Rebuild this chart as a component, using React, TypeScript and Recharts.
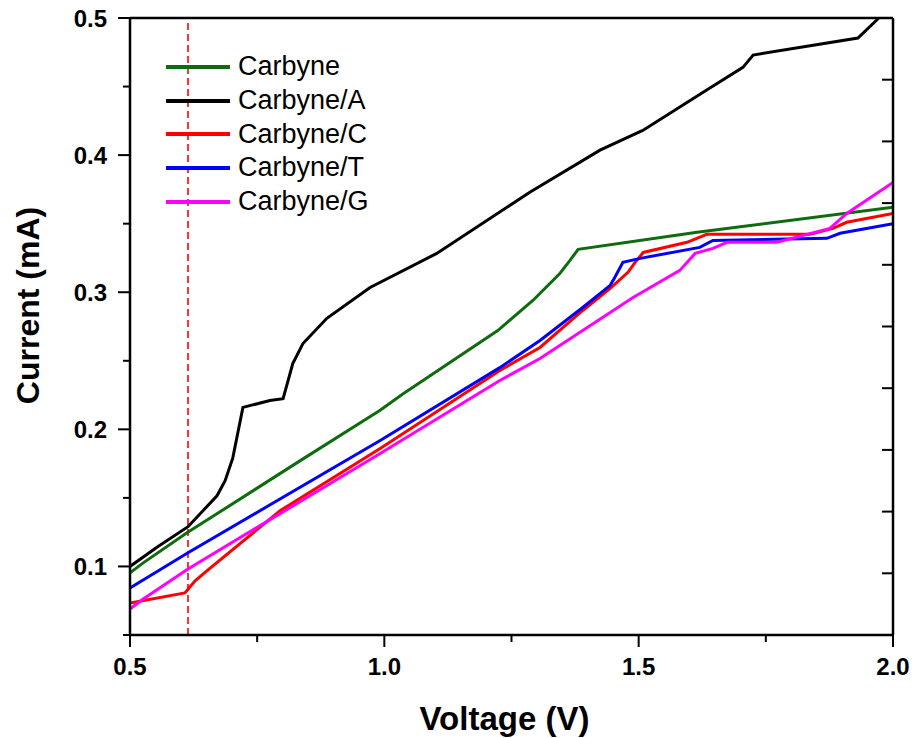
import { LineChart, Line, XAxis, YAxis, ReferenceLine } from 'recharts';

// Voltage (V) / current (mA), one pair of arrays per sample
const carbyneV = [0.5, 0.526, 0.612, 0.834, 0.991, 1.037, 1.223, 1.292, 1.345, 1.365, 1.381, 1.615, 2.0];
const carbyneI = [0.0953, 0.1026, 0.1245, 0.177, 0.2137, 0.226, 0.272, 0.294, 0.3137, 0.3232, 0.3313, 0.3437, 0.362];

const carbyneAV = [0.5, 0.553, 0.614, 0.671, 0.687, 0.702, 0.722, 0.775, 0.801, 0.82, 0.84, 0.887, 0.972, 1.103, 1.286, 1.424, 1.508, 1.64, 1.705, 1.725, 1.931, 1.968, 2.0];
const carbyneAI = [0.1, 0.114, 0.129, 0.1515, 0.1625, 0.179, 0.216, 0.221, 0.2224, 0.248, 0.2626, 0.281, 0.3035, 0.3283, 0.3729, 0.4036, 0.418, 0.449, 0.464, 0.473, 0.4854, 0.4985, 0.512];

const carbyneCV = [0.5, 0.608, 0.628, 0.651, 0.795, 0.991, 1.227, 1.306, 1.39, 1.444, 1.479, 1.493, 1.509, 1.595, 1.634, 1.837, 1.882, 1.909, 2.0];
const carbyneCI = [0.0734, 0.0807, 0.0895, 0.0968, 0.1406, 0.1859, 0.2429, 0.2597, 0.2867, 0.3028, 0.3145, 0.3218, 0.329, 0.3364, 0.3422, 0.3422, 0.3466, 0.351, 0.3575];

const carbyneTV = [0.5, 0.614, 0.991, 1.227, 1.306, 1.39, 1.444, 1.453, 1.469, 1.503, 1.62, 1.646, 1.87, 1.896, 2.0];
const carbyneTI = [0.0843, 0.11, 0.1917, 0.245, 0.2648, 0.2889, 0.305, 0.3108, 0.3218, 0.3247, 0.3327, 0.3378, 0.3393, 0.343, 0.35];

const carbyneGV = [0.5, 0.526, 0.614, 0.795, 0.991, 1.227, 1.306, 1.489, 1.581, 1.611, 1.646, 1.674, 1.772, 1.876, 1.909, 2.0];
const carbyneGI = [0.069, 0.0763, 0.0982, 0.1385, 0.1822, 0.2356, 0.2516, 0.2962, 0.3159, 0.3283, 0.332, 0.3364, 0.3364, 0.3466, 0.3575, 0.38];

const markerV = 0.614;

// ticks
const xTicks = [0.5, 0.75, 1.0, 1.25, 1.5, 1.75, 2.0];
const xMajor = [0.5, 1.0, 1.5, 2.0];
const yTicks = [0.05, 0.1, 0.15, 0.2, 0.25, 0.3, 0.35, 0.4, 0.45, 0.5];
const yMajor = [0.1, 0.2, 0.3, 0.4, 0.5];
const topTicks = [0.5, 0.65, 0.8, 0.95, 1.1, 1.25, 1.4, 1.55, 1.7, 1.85, 2.0];
const rightTicks = [0.05, 0.095, 0.14, 0.185, 0.23, 0.275, 0.32, 0.365, 0.41, 0.455, 0.5];

const FONT = 'Arial, "Liberation Sans", Helvetica, sans-serif';

const toPoints = (v: number[], i: number[]) => v.map((x, k) => ({ v: x, i: i[k] }));

const series = [
    { name: 'Carbyne', color: '#0e6b0e', data: toPoints(carbyneV, carbyneI) },
    { name: 'Carbyne/A', color: '#000000', data: toPoints(carbyneAV, carbyneAI) },
    { name: 'Carbyne/C', color: '#ff0000', data: toPoints(carbyneCV, carbyneCI) },
    { name: 'Carbyne/T', color: '#0000ff', data: toPoints(carbyneTV, carbyneTI) },
    { name: 'Carbyne/G', color: '#ff00ff', data: toPoints(carbyneGV, carbyneGI) },
];

const isMajor = (val: number, majors: number[]) => majors.some(m => Math.abs(m - val) < 1e-6);

const BottomTick = ({ x, y, payload }: any) => {
    const major = isMajor(payload.value, xMajor);
    return (
        <g>
            <line x1={x} x2={x} y1={y} y2={y + (major ? 12 : 7)} stroke="#000" strokeWidth={2} />
            {major && (
                <text x={x} y={y + 40} textAnchor="middle" fontSize={24} fontWeight="bold" fontFamily={FONT} fill="#000">
                    {payload.value.toFixed(1)}
                </text>
            )}
        </g>
    );
};

const LeftTick = ({ x, y, payload }: any) => {
    const major = isMajor(payload.value, yMajor);
    return (
        <g>
            <line x1={x - (major ? 12 : 7)} x2={x} y1={y} y2={y} stroke="#000" strokeWidth={2} />
            {major && (
                <text x={x - 23} y={y + 8.6} textAnchor="end" fontSize={24} fontWeight="bold" fontFamily={FONT} fill="#000">
                    {payload.value.toFixed(1)}
                </text>
            )}
        </g>
    );
};

// mirrored frame ticks point inward
const TopTick = ({ x, y }: any) => (
    <line x1={x} x2={x} y1={y} y2={y + 11} stroke="#000" strokeWidth={2} />
);

const RightTick = ({ x, y }: any) => (
    <line x1={x - 11} x2={x} y1={y} y2={y} stroke="#000" strokeWidth={2} />
);

const XTitle = ({ viewBox }: any) => (
    <text
        x={viewBox.x + viewBox.width / 2 - 7}
        y={viewBox.y + 95}
        textAnchor="middle"
        fontSize={33}
        fontWeight="bold"
        fontFamily={FONT}
        fill="#000"
    >
        Voltage (V)
    </text>
);

const YTitle = ({ viewBox }: any) => {
    const cx = viewBox.x + 28;
    const cy = viewBox.y + viewBox.height / 2 - 21;
    return (
        <text
            x={cx}
            y={cy}
            dy="0.35em"
            transform={`rotate(-90, ${cx}, ${cy})`}
            textAnchor="middle"
            fontSize={32}
            fontWeight="bold"
            fontFamily={FONT}
            fill="#000"
        >
            Current (mA)
        </text>
    );
};

// legend sits inside the frame, top-left; kept out of recharts so it doesn't shift the plot
const LegendBox = () => (
    <div style={{ position: 'absolute', left: 166, top: 50, fontFamily: FONT, fontSize: 27, color: '#000' }}>
        {series.map(s => (
            <div key={s.name} style={{ display: 'flex', alignItems: 'center', height: 33.7 }}>
                <span style={{ display: 'inline-block', width: 64, height: 4, background: s.color, marginRight: 8 }}></span>
                <span>{s.name}</span>
            </div>
        ))}
    </div>
);

const axisLine = { stroke: '#000', strokeWidth: 2.5 };

export default function App() {
    return (
        <div style={{ position: 'absolute', left: 0, top: 0, width: 912, height: 738, background: '#fff' }}>
            <LineChart width={912} height={738} margin={{ top: 17, right: 18, left: 0, bottom: 0 }}>
                <XAxis
                    xAxisId="b"
                    dataKey="v"
                    type="number"
                    domain={[0.5, 2]}
                    ticks={xTicks}
                    interval={0}
                    height={103}
                    tickSize={0}
                    tickMargin={0}
                    tickLine={false}
                    tick={<BottomTick />}
                    axisLine={axisLine}
                    allowDataOverflow
                    label={<XTitle />}
                />
                <XAxis
                    xAxisId="t"
                    orientation="top"
                    type="number"
                    domain={[0.5, 2]}
                    ticks={topTicks}
                    interval={0}
                    height={1}
                    tickSize={0}
                    tickMargin={0}
                    tickLine={false}
                    tick={<TopTick />}
                    axisLine={axisLine}
                    allowDataOverflow
                />
                <YAxis
                    yAxisId="l"
                    type="number"
                    domain={[0.05, 0.5]}
                    ticks={yTicks}
                    interval={0}
                    width={130}
                    tickSize={0}
                    tickMargin={0}
                    tickLine={false}
                    tick={<LeftTick />}
                    axisLine={axisLine}
                    allowDataOverflow
                    label={<YTitle />}
                />
                <YAxis
                    yAxisId="r"
                    orientation="right"
                    type="number"
                    domain={[0.05, 0.5]}
                    ticks={rightTicks}
                    interval={0}
                    width={1}
                    tickSize={0}
                    tickMargin={0}
                    tickLine={false}
                    tick={<RightTick />}
                    axisLine={axisLine}
                    allowDataOverflow
                />
                <ReferenceLine
                    xAxisId="b"
                    yAxisId="l"
                    x={markerV}
                    stroke="#ff0000"
                    strokeWidth={1.6}
                    strokeDasharray="7 4"
                />
                {series.map(s => (
                    <Line
                        key={s.name}
                        xAxisId="b"
                        yAxisId="l"
                        data={s.data}
                        dataKey="i"
                        name={s.name}
                        type="linear"
                        stroke={s.color}
                        strokeWidth={3}
                        dot={false}
                        activeDot={false}
                        isAnimationActive={false}
                    />
                ))}
            </LineChart>
            <LegendBox />
        </div>
    );
}
